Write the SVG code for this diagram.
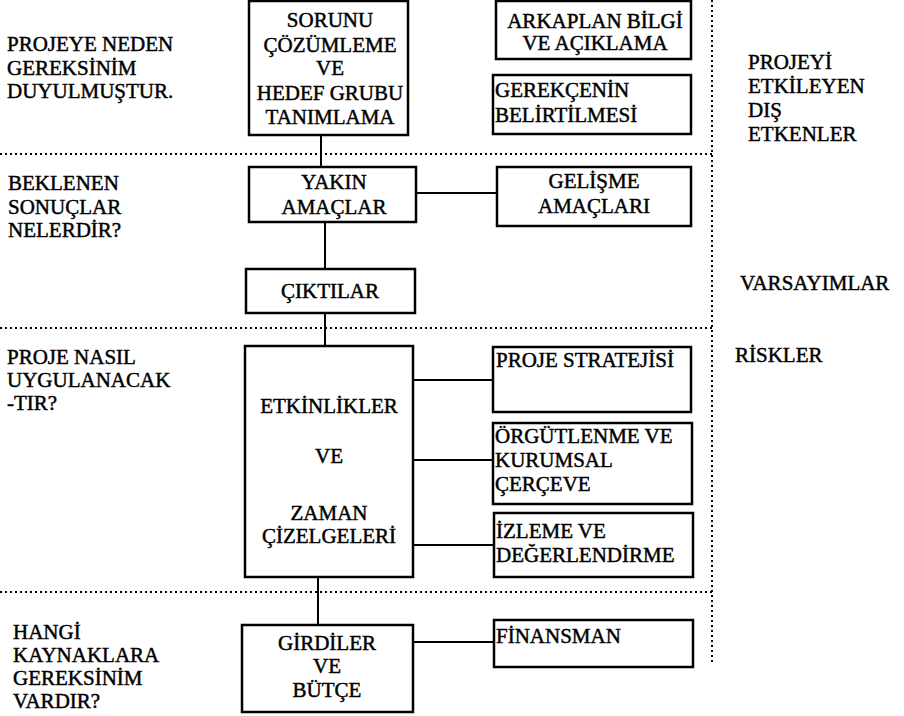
<svg xmlns="http://www.w3.org/2000/svg" width="904" height="716" viewBox="0 0 904 716">
<style>
text{font-family:"Liberation Serif","Times New Roman",serif;font-size:21px;fill:#000;stroke:#000;stroke-width:0.45}
.c{text-anchor:middle}
.box{fill:none;stroke:#000;stroke-width:2.5}
.ln{stroke:#000;stroke-width:2;fill:none}
.dot{stroke:#000;stroke-width:2;stroke-dasharray:2 3;fill:none}
</style>
<rect width="904" height="716" fill="#fff"/>
<g id="dividers">
<line class="dot" x1="0" y1="154" x2="712" y2="154"/>
<line class="dot" x1="0" y1="328" x2="712" y2="328"/>
<line class="dot" x1="0" y1="592" x2="712" y2="592"/>
<line class="dot" x1="712" y1="0" x2="712" y2="665"/>
</g>
<g id="connectors">
<line class="ln" x1="321" y1="135" x2="321" y2="167"/>
<line class="ln" x1="416" y1="193" x2="497" y2="193"/>
<line class="ln" x1="325" y1="222" x2="325" y2="269"/>
<line class="ln" x1="325" y1="313" x2="325" y2="346"/>
<line class="ln" x1="413" y1="380" x2="493" y2="380"/>
<line class="ln" x1="413" y1="460" x2="493" y2="460"/>
<line class="ln" x1="413" y1="545" x2="494" y2="545"/>
<line class="ln" x1="318" y1="577" x2="318" y2="625"/>
<line class="ln" x1="413" y1="642" x2="494" y2="642"/>
</g>
<g id="sorunu">
<rect class="box" x="249" y="1" width="159" height="134"/>
<text class="c" x="330" y="27">SORUNU</text>
<text class="c" x="330" y="52">ÇÖZÜMLEME</text>
<text class="c" x="330" y="75">VE</text>
<text class="c" x="330" y="100">HEDEF GRUBU</text>
<text class="c" x="330" y="124">TANIMLAMA</text>
</g>
<g id="arkaplan">
<rect class="box" x="496" y="1" width="195" height="58"/>
<text class="c" x="595" y="28">ARKAPLAN BİLGİ</text>
<text class="c" x="595" y="50">VE AÇIKLAMA</text>
</g>
<g id="gerekce">
<rect class="box" x="493" y="75" width="198" height="59"/>
<text x="495" y="97">GEREKÇENİN</text>
<text x="495" y="122">BELİRTİLMESİ</text>
</g>
<g id="yakin">
<rect class="box" x="249" y="167" width="167" height="55"/>
<text class="c" x="334" y="189">YAKIN</text>
<text class="c" x="334" y="214">AMAÇLAR</text>
</g>
<g id="gelisme">
<rect class="box" x="497" y="167" width="194" height="59"/>
<text class="c" x="594" y="188">GELİŞME</text>
<text class="c" x="594" y="213">AMAÇLARI</text>
</g>
<g id="ciktilar">
<rect class="box" x="246" y="269" width="169" height="44"/>
<text class="c" x="330" y="298">ÇIKTILAR</text>
</g>
<g id="etkinlikler">
<rect class="box" x="245" y="346" width="168" height="231"/>
<text class="c" x="329" y="413">ETKİNLİKLER</text>
<text class="c" x="329" y="463">VE</text>
<text class="c" x="329" y="520">ZAMAN</text>
<text class="c" x="329" y="543">ÇİZELGELERİ</text>
</g>
<g id="strateji">
<rect class="box" x="493" y="347" width="198" height="65"/>
<text x="496" y="367">PROJE STRATEJİSİ</text>
</g>
<g id="orgutlenme">
<rect class="box" x="493" y="423" width="199" height="81"/>
<text x="495" y="443">ÖRGÜTLENME VE</text>
<text x="495" y="467">KURUMSAL</text>
<text x="495" y="491">ÇERÇEVE</text>
</g>
<g id="izleme">
<rect class="box" x="494" y="513" width="199" height="64"/>
<text x="496" y="538">İZLEME VE</text>
<text x="496" y="562">DEĞERLENDİRME</text>
</g>
<g id="girdiler">
<rect class="box" x="242" y="625" width="171" height="87"/>
<text class="c" x="327" y="650">GİRDİLER</text>
<text class="c" x="327" y="673">VE</text>
<text class="c" x="327" y="697">BÜTÇE</text>
</g>
<g id="finansman">
<rect class="box" x="494" y="620" width="199" height="47"/>
<text x="496" y="643">FİNANSMAN</text>
</g>
<g id="row-labels">
<text x="7" y="51">PROJEYE NEDEN</text>
<text x="7" y="75">GEREKSİNİM</text>
<text x="7" y="98">DUYULMUŞTUR.</text>
<text x="8" y="190">BEKLENEN</text>
<text x="8" y="214">SONUÇLAR</text>
<text x="8" y="237">NELERDİR?</text>
<text x="7" y="364">PROJE NASIL</text>
<text x="7" y="387">UYGULANACAK</text>
<text x="7" y="410">-TIR?</text>
<text x="13" y="639">HANGİ</text>
<text x="13" y="662">KAYNAKLARA</text>
<text x="13" y="685">GEREKSİNİM</text>
<text x="13" y="708">VARDIR?</text>
</g>
<g id="side-labels">
<text x="748" y="69">PROJEYİ</text>
<text x="748" y="93">ETKİLEYEN</text>
<text x="748" y="117">DIŞ</text>
<text x="748" y="141">ETKENLER</text>
<text x="740" y="290">VARSAYIMLAR</text>
<text x="735" y="362">RİSKLER</text>
</g>
</svg>
